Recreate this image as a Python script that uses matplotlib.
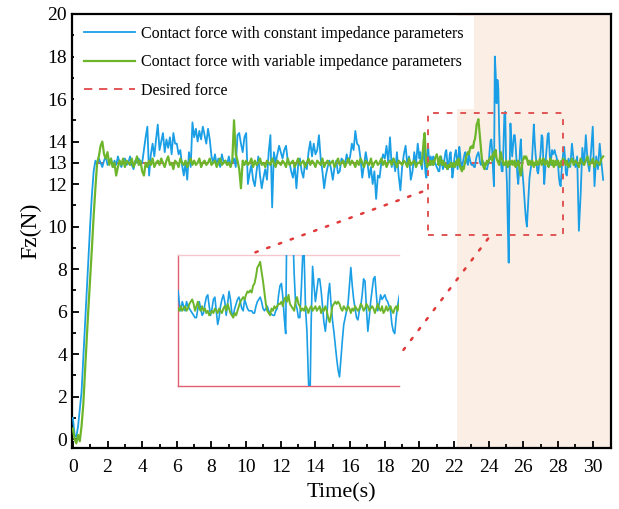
import numpy as np
import matplotlib
matplotlib.use("Agg")
import matplotlib.pyplot as plt
from matplotlib.patches import Rectangle, ConnectionPatch
from matplotlib.ticker import FixedLocator

plt.rcParams['font.family'] = ['Liberation Serif', 'DejaVu Serif']

# ---------------- data ----------------
# sampling grid: 0.1 s, finer 0.05 s inside the zoomed window, 0.1 s at the end
time_a = np.round(np.arange(200) * 0.1, 2)
time_b = np.round(20.0 + np.arange(170) * 0.05, 2)
time_c = np.round(28.5 + np.arange(22) * 0.1, 2)
time = np.concatenate([time_a, time_b, time_c])

constant_force_a = [
    1.0, 0.2, 0.1, 0.6, 1.4, 2.2, 3.8, 5.4, 7.1, 8.7,
    10.1, 11.5, 12.6, 13.1, 12.9, 13.2, 13.0, 12.8, 13.1, 13.3,
    12.9, 13.0, 13.2, 12.8, 13.1, 12.9, 13.3, 13.0, 12.8, 13.1,
    13.2, 12.9, 13.0, 13.3, 12.9, 12.7, 13.1, 13.0, 13.2, 12.9,
    13.0, 13.6, 14.2, 14.7, 12.4, 13.4, 13.9, 13.3, 14.1, 14.8,
    13.6, 14.0, 14.4, 13.5, 14.1, 13.7, 14.2, 13.4, 14.4, 13.9,
    13.9, 13.4, 13.6, 12.9, 12.4, 13.0, 12.2, 13.5, 12.8, 14.9,
    14.2, 14.6, 14.0, 14.5, 14.1, 14.7, 14.3, 13.9, 14.6, 14.1,
    13.3, 13.0, 13.4, 12.9, 13.2, 12.8, 13.4, 13.0, 13.1, 12.9,
    13.3, 12.9, 13.0, 13.2, 12.8, 14.3, 14.4, 13.9, 13.5, 14.2,
    14.4, 12.0, 12.5, 12.9, 12.2, 11.9, 12.6, 13.3, 12.4, 11.8,
    12.3, 12.7, 12.2, 13.5, 14.3, 10.9, 13.5, 13.0, 13.4, 13.8,
    13.5, 13.2, 13.6, 13.8, 13.1, 13.0, 12.6, 12.3, 12.9, 11.8,
    12.9, 13.2, 12.6, 12.3, 13.0, 12.7, 13.5, 14.0, 13.3, 13.9,
    13.4, 13.6, 14.3, 13.2, 12.6, 11.8, 12.4, 12.8, 13.1, 12.7,
    12.2, 12.8, 13.1, 12.5, 12.6, 13.2, 13.1, 12.9, 13.4, 13.0,
    13.3, 13.9, 13.6, 14.5, 13.9, 13.8, 13.2, 12.3, 12.9, 13.5,
    13.0, 12.3, 12.8, 12.0, 12.6, 11.3, 12.4, 12.3, 13.0, 13.4,
    13.2, 13.8, 13.0, 14.2, 12.8, 13.2, 12.6, 13.5, 12.4, 11.7,
    12.8, 13.4, 13.8, 12.9, 13.3, 12.2, 12.6, 13.5, 12.9, 13.9,
]
constant_force_b = [
    13.2, 13.5, 12.9, 12.7, 13.4, 13.7, 13.1, 12.5, 12.3, 13.0,
    13.8, 13.2, 12.9, 13.3, 13.1, 12.9, 13.3, 13.1, 13.0, 12.9,
    12.8, 12.7, 12.6, 12.6, 13.0, 13.3, 13.0, 12.7, 12.8, 13.2,
    13.5, 13.6, 13.1, 12.7, 13.0, 13.4, 13.5, 12.9, 12.3, 12.6,
    13.1, 13.4, 13.6, 13.3, 12.7, 13.2, 13.75, 13.4, 12.8, 12.7,
    13.0, 13.2, 13.4, 13.5, 13.3, 13.0, 12.9, 13.4, 13.2, 13.0,
    12.9, 12.9, 12.9, 12.8, 12.8, 13.1, 13.3, 13.4, 13.5, 13.3,
    13.0, 12.9, 13.0, 13.1, 12.9, 12.8, 12.75, 12.7, 12.7, 12.9,
    13.0, 13.6, 14.0, 14.1, 13.5, 12.6, 11.9, 18.0, 17.2, 15.8,
    16.9, 16.5, 14.5, 13.2, 13.0, 12.6, 12.6, 13.8, 15.3, 15.4,
    13.0, 12.0, 10.0, 8.3, 12.4, 14.85, 14.0, 13.3, 13.8, 14.3,
    14.3, 13.8, 13.1, 12.4, 12.0, 12.6, 13.6, 14.1, 13.2, 12.5,
    12.0, 11.4, 10.8, 10.3, 10.0, 10.8, 11.6, 12.3, 12.6, 12.9,
    13.2, 14.0, 14.8, 14.0, 13.4, 13.0, 12.6, 12.5, 12.9, 13.1,
    13.6, 14.3, 14.2, 13.0, 12.0, 12.6, 13.3, 13.8, 14.3, 14.4,
    13.6, 12.9, 13.2, 13.6, 13.4, 13.5, 13.6, 13.4, 13.3, 13.1,
    12.9, 12.3, 12.0, 11.9, 12.6, 13.1, 13.5, 13.75, 13.2, 12.5,
]
constant_force_c = [
    12.4, 13.2, 12.8, 13.9, 13.1, 12.8, 13.3, 9.8, 11.5, 13.7,
    12.9, 14.3, 13.1, 12.6, 13.5, 14.7, 11.9, 13.3, 12.7, 13.9,
    13.0, 12.2,
]

variable_force_a = [
    0.5, 0.0, -0.2, 0.2, -0.1, 0.6, 1.6, 3.2, 4.7, 6.2,
    7.6, 9.0, 10.5, 11.8, 13.0, 13.3, 13.8, 14.0, 13.4, 13.2,
    13.5, 12.9, 13.2, 12.8, 13.0, 12.4, 12.8, 13.1, 12.9, 13.2,
    12.8, 13.1, 13.0, 12.9, 13.2, 12.8, 13.0, 13.3, 12.9, 13.1,
    12.6, 12.4, 13.0, 12.8, 13.1, 12.9, 13.2, 12.8, 13.0, 13.1,
    12.9, 13.2, 13.0, 12.8, 13.1, 13.3, 12.9, 13.0, 12.7, 13.1,
    13.0, 12.8, 13.2, 13.0, 12.9, 13.1, 12.8, 13.0, 13.2, 12.9,
    13.1, 12.9, 13.0, 13.2, 12.8, 13.0, 13.1, 12.9, 13.0, 13.2,
    12.9, 13.0, 13.1, 12.8, 13.0, 13.2, 12.9, 13.0, 13.1, 12.9,
    13.0, 12.8, 13.1, 15.0, 13.4, 13.1, 12.7, 11.8, 13.1, 12.9,
    13.1, 12.9, 13.0, 13.2, 12.8, 13.1, 12.9, 13.0, 13.2, 12.9,
    13.0, 12.8, 13.1, 13.0, 12.9, 13.2, 13.0, 12.8, 13.1, 13.0,
    12.9, 13.1, 13.0, 12.8, 13.2, 12.9, 13.0, 13.1, 12.8, 13.0,
    13.2, 12.9, 13.0, 13.1, 12.8, 13.0, 13.2, 12.9, 13.1, 13.0,
    12.8, 13.1, 13.0, 12.9, 13.2, 12.8, 13.0, 13.1, 12.9, 13.0,
    13.1, 12.8, 13.0, 13.2, 12.9, 13.0, 13.1, 12.8, 13.0, 13.2,
    12.9, 13.1, 13.0, 12.8, 13.1, 12.9, 13.2, 13.0, 12.8, 13.1,
    13.0, 12.9, 13.2, 12.8, 13.0, 13.1, 12.9, 13.0, 13.2, 12.9,
    13.1, 12.8, 13.0, 13.1, 12.9, 13.2, 13.0, 12.8, 13.1, 13.0,
    12.9, 13.1, 13.0, 12.8, 13.2, 12.9, 13.0, 13.1, 12.8, 13.0,
]
variable_force_b = [
    13.0, 13.1, 12.9, 13.1, 13.6, 14.1, 14.4, 13.6, 13.0, 12.8,
    13.0, 12.9, 13.1, 12.9, 13.0, 13.1, 12.9, 13.0, 13.2, 13.3,
    13.4, 13.2, 12.9, 13.1, 13.3, 13.0, 12.9, 13.1, 12.9, 13.0,
    12.8, 12.9, 12.7, 12.8, 12.9, 12.8, 13.0, 12.9, 12.8, 13.0,
    12.9, 12.8, 13.0, 13.1, 12.9, 13.2, 13.0, 12.8, 12.7, 12.6,
    12.8, 12.7, 12.9, 13.1, 13.3, 13.4, 13.5, 13.4, 13.6, 13.75,
    13.7, 13.8, 13.7, 14.0, 14.1, 14.4, 14.8, 14.9, 15.05, 14.6,
    14.2, 13.7, 13.2, 12.9, 12.8, 12.7, 13.0, 12.9, 13.1, 13.0,
    13.1, 13.2, 13.2, 13.3, 13.1, 13.4, 13.5, 13.3, 13.6, 13.2,
    13.1, 13.0, 12.9, 13.3, 13.5, 13.2, 13.1, 12.9, 13.0, 12.9,
    13.1, 13.0, 12.8, 13.0, 13.1, 12.9, 13.0, 13.1, 12.9, 13.0,
    13.1, 12.8, 13.0, 12.9, 13.1, 12.9, 12.6, 12.4, 12.7, 13.1,
    13.2, 13.3, 13.2, 13.3, 13.2, 13.0, 12.9, 13.1, 13.0, 12.9,
    13.1, 13.0, 12.8, 13.0, 12.9, 13.1, 13.0, 12.9, 13.0, 13.2,
    13.1, 12.9, 13.0, 13.2, 13.1, 12.9, 13.0, 13.1, 13.0, 12.8,
    13.0, 13.2, 13.0, 12.9, 13.1, 12.8, 12.9, 13.1, 12.9, 13.0,
    13.1, 12.9, 12.8, 13.0, 13.1, 12.9, 13.2, 13.1, 13.0, 12.9,
]
variable_force_c = [
    13.1, 12.8, 13.0, 13.2, 12.9, 13.1, 13.0, 12.8, 13.2, 13.0,
    12.9, 13.1, 13.3, 12.9, 13.0, 13.2, 12.8, 13.1, 13.0, 12.9,
    13.2, 13.3,
]

constant_force = np.array(constant_force_a + constant_force_b + constant_force_c)
variable_force = np.array(variable_force_a + variable_force_b + variable_force_c)

desired_force = 13.0
desired_start = 1.3
shade_start = 22.15

zoom_xlim = (20.5, 28.3)
zoom_ylim = (9.6, 15.35)

x_ticks = list(range(0, 31, 2))
x_minor = list(range(1, 31, 2))
y_ticks = [0, 2, 4, 6, 8, 10, 12, 13, 14, 16, 18, 20]
y_minor = [1, 3, 5, 7, 9, 11, 15, 17, 19]

labels = ["Contact force with constant impedance parameters",
          "Contact force with variable impedance parameters",
          "Desired force"]

c_blue = "#1A9FE6"
c_green = "#6DB52A"
c_red = "#E03A3A"
c_shade = "#FBEEE5"

# ---------------- figure ----------------
fig = plt.figure(figsize=(6.19, 5.09), dpi=100)
ax = fig.add_axes([0.1163, 0.1198, 0.8707, 0.8527])

ax.axvspan(shade_start, 31.05, color=c_shade, zorder=0, lw=0)
ax.plot([desired_start, time[-1]], [desired_force, desired_force],
        color=c_red, lw=1.2, dashes=(5, 4), zorder=1, label=labels[2])
ax.plot(time, constant_force, color=c_blue, lw=1.3, zorder=3, label=labels[0])
ax.plot(time, variable_force, color=c_green, lw=1.6, zorder=4, label=labels[1])

ax.set_xlim(-0.05, 31.05)
ax.set_ylim(-0.42, 20)
ax.xaxis.set_major_locator(FixedLocator(x_ticks))
ax.xaxis.set_minor_locator(FixedLocator(x_minor))
ax.yaxis.set_major_locator(FixedLocator(y_ticks))
ax.yaxis.set_minor_locator(FixedLocator(y_minor))
ax.tick_params(which='both', direction='in', width=1.3, labelsize=14, color='black')
ax.tick_params(which='major', length=5)
ax.tick_params(which='minor', length=3)
ax.tick_params(axis='x', pad=8)
for s in ax.spines.values():
    s.set_linewidth(1.6)

ax.set_xlabel("Time(s)", fontsize=16, labelpad=5)
ax.set_ylabel("Fz(N)", fontsize=17, labelpad=4)

handles, lbls = ax.get_legend_handles_labels()
order = [1, 2, 0]
leg = ax.legend([handles[i] for i in order], [lbls[i] for i in order],
                loc='upper left', fontsize=11.5, frameon=True, fancybox=False,
                facecolor='white', edgecolor='none', framealpha=1,
                handlelength=3.2, handletextpad=0.4, labelspacing=0.78,
                borderpad=0.62, borderaxespad=0.12)
leg.set_zorder(6)

# zoom box
ax.add_patch(Rectangle((zoom_xlim[0], zoom_ylim[0]),
                       zoom_xlim[1] - zoom_xlim[0], zoom_ylim[1] - zoom_ylim[0],
                       fill=False, edgecolor="#E05555", lw=1.4,
                       linestyle=(0, (3, 4)), zorder=7))

# inset
axin = fig.add_axes([0.2876, 0.2417, 0.357, 0.2574])
axin.plot(time, constant_force, color=c_blue, lw=1.2, zorder=3)
axin.plot(time, variable_force, color=c_green, lw=1.4, zorder=4)
axin.set_xlim(*zoom_xlim)
axin.set_ylim(*zoom_ylim)
axin.set_xticks([])
axin.set_yticks([])
axin.spines['left'].set_color("#E06070")
axin.spines['bottom'].set_color("#E06070")
axin.spines['top'].set_color("#F6C8CE")
axin.spines['right'].set_visible(False)
for s in axin.spines.values():
    s.set_linewidth(1.0)

con1 = ConnectionPatch(xyA=(0.35, 1.02), coordsA=axin.transAxes,
                       xyB=(20.43, 11.72), coordsB=ax.transData,
                       color=c_red, lw=1.8, linestyle=(0, (1, 4)))
con2 = ConnectionPatch(xyA=(1.02, 0.275), coordsA=axin.transAxes,
                       xyB=(24.07, 9.55), coordsB=ax.transData,
                       color=c_red, lw=1.8, linestyle=(0, (1, 4)))
fig.add_artist(con1)
fig.add_artist(con2)

fig.savefig("out.png", dpi=100)
